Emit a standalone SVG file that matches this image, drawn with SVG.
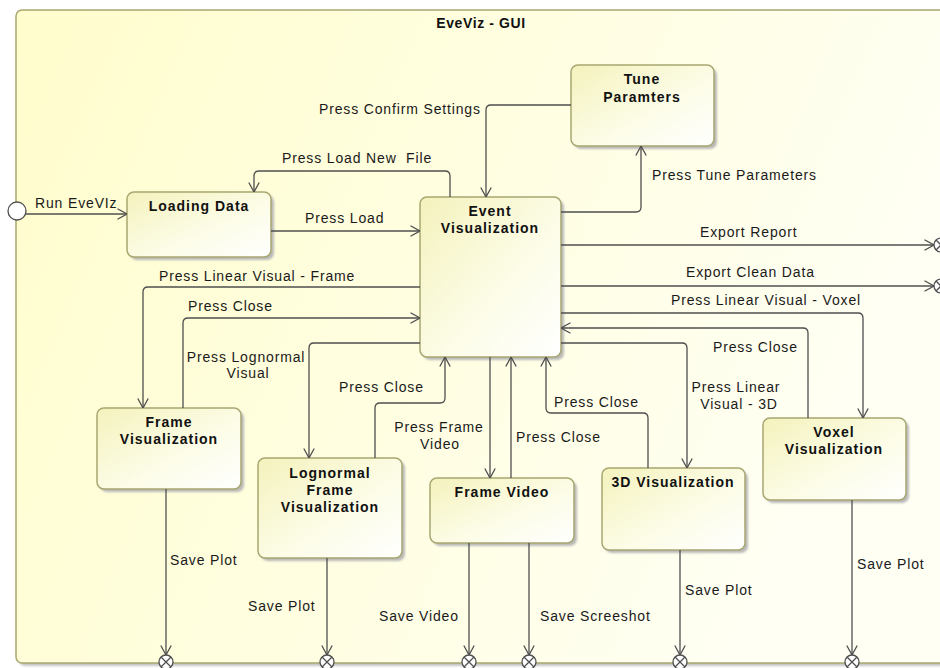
<svg xmlns="http://www.w3.org/2000/svg" width="940" height="668" viewBox="0 0 940 668">
<style>
.nr{fill:url(#ng);stroke:#a8a770;stroke-width:1.5}
.sh{fill:#b9b9b9;filter:url(#blur)}
.t{font-family:"Liberation Sans",Arial,sans-serif;font-weight:bold;font-size:14px;letter-spacing:1px;text-anchor:middle;fill:#111}
.l{font-family:"Liberation Sans",Arial,sans-serif;font-size:14px;letter-spacing:0.85px;fill:#1a1a1a}
.m{text-anchor:middle}
.c{fill:none;stroke:#4f4f4f;stroke-width:1.3}
.a{marker-end:url(#arr)}
.ex{fill:#fff;stroke:#4f4f4f;stroke-width:1.3}
</style>
<defs>
<linearGradient id="fg" x1="0" y1="0" x2="1" y2="0.3">
<stop offset="0" stop-color="#fffdcc"/>
<stop offset="1" stop-color="#fffff4"/>
</linearGradient>
<linearGradient id="ng" x1="0" y1="0" x2="1" y2="1">
<stop offset="0" stop-color="#f4f2bc"/>
<stop offset="0.55" stop-color="#fcfce6"/>
<stop offset="1" stop-color="#ffffff"/>
</linearGradient>
<filter id="blur" x="-10%" y="-10%" width="120%" height="120%"><feGaussianBlur stdDeviation="1"/></filter>
<marker id="arr" viewBox="0 0 10 12" refX="10" refY="6" markerWidth="10" markerHeight="12" orient="auto" markerUnits="userSpaceOnUse">
<path d="M0.5,0.8 L10,6 L0.5,11.2" fill="none" stroke="#4f4f4f" stroke-width="1.3"/>
</marker>
</defs>
<g id="frame">
<rect x="19" y="13" width="940" height="653" rx="6" fill="#c4c4c4" filter="url(#blur)"/>
<rect x="16" y="10" width="940" height="653" rx="6" fill="url(#fg)" stroke="#a8a770" stroke-width="1.5"/>
<text class="t" x="481" y="28" style="letter-spacing:0.6px">EveViz - GUI</text>
</g>
<g id="initial">
<circle cx="17" cy="211" r="9" class="ex"/>
</g>
<g id="loading-data">
<rect class="sh" x="130" y="195" width="144" height="65" rx="7"/>
<rect class="nr" x="127" y="192" width="144" height="65" rx="7"/>
<text class="t" x="199" y="211">Loading Data</text>
</g>
<g id="event-visualization">
<rect class="sh" x="423" y="200" width="141" height="160" rx="7"/>
<rect class="nr" x="420" y="197" width="141" height="160" rx="7"/>
<text class="t" x="490" y="216">Event</text>
<text class="t" x="490" y="233">Visualization</text>
</g>
<g id="tune-parameters">
<rect class="sh" x="574" y="68" width="143" height="81" rx="7"/>
<rect class="nr" x="571" y="65" width="143" height="81" rx="7"/>
<text class="t" x="642" y="84">Tune</text>
<text class="t" x="642" y="102">Paramters</text>
</g>
<g id="frame-visualization">
<rect class="sh" x="100" y="411" width="144" height="81" rx="7"/>
<rect class="nr" x="97" y="408" width="144" height="81" rx="7"/>
<text class="t" x="169" y="427">Frame</text>
<text class="t" x="169" y="444">Visualization</text>
</g>
<g id="lognormal-frame-visualization">
<rect class="sh" x="261" y="461" width="144" height="100" rx="7"/>
<rect class="nr" x="258" y="458" width="144" height="100" rx="7"/>
<text class="t" x="330" y="478">Lognormal</text>
<text class="t" x="330" y="495">Frame</text>
<text class="t" x="330" y="512">Visualization</text>
</g>
<g id="frame-video">
<rect class="sh" x="433" y="481" width="144" height="65" rx="7"/>
<rect class="nr" x="430" y="478" width="144" height="65" rx="7"/>
<text class="t" x="502" y="497">Frame Video</text>
</g>
<g id="visualization-3d">
<rect class="sh" x="605" y="471" width="143" height="82" rx="7"/>
<rect class="nr" x="602" y="468" width="143" height="82" rx="7"/>
<text class="t" x="673" y="487">3D Visualization</text>
</g>
<g id="voxel-visualization">
<rect class="sh" x="766" y="421" width="143" height="82" rx="7"/>
<rect class="nr" x="763" y="418" width="143" height="82" rx="7"/>
<text class="t" x="834" y="437">Voxel</text>
<text class="t" x="834" y="454">Visualization</text>
</g>
<g id="exit-points">
<g class="ex">
<circle cx="941" cy="245" r="7"/>
<circle cx="941" cy="286" r="7"/>
<circle cx="166" cy="662" r="7"/>
<circle cx="327" cy="662" r="7"/>
<circle cx="469" cy="662" r="7"/>
<circle cx="529" cy="662" r="7"/>
<circle cx="680" cy="662" r="7"/>
<circle cx="852" cy="662" r="7"/>
</g>
<path class="c" d="M936,240 l10,10 M936,250 l10,-10 M936,281 l10,10 M936,291 l10,-10 M161,657 l10,10 M161,667 l10,-10 M322,657 l10,10 M322,667 l10,-10 M464,657 l10,10 M464,667 l10,-10 M524,657 l10,10 M524,667 l10,-10 M675,657 l10,10 M675,667 l10,-10 M847,657 l10,10 M847,667 l10,-10"/>
</g>
<g id="connectors">
<path class="c a" d="M25.5,214 H127"/>
<path class="c a" d="M271,231 H420"/>
<path class="c a" d="M450,197 V176 Q450,171 445,171 H259 Q254,171 254,176 V192"/>
<path class="c a" d="M571,105 H491 Q486,105 486,110 V197"/>
<path class="c a" d="M561,212 H636 Q641,212 641,207 V146"/>
<path class="c a" d="M561,245 H934"/>
<path class="c a" d="M561,286 H934"/>
<path class="c a" d="M561,313 H858 Q863,313 863,318 V418"/>
<path class="c a" d="M808,418 V333 Q808,328 803,328 H561"/>
<path class="c a" d="M561,343 H682 Q687,343 687,348 V468"/>
<path class="c a" d="M648,468 V418 Q648,413 643,413 H551 Q546,413 546,408 V357"/>
<path class="c a" d="M490,357 V478"/>
<path class="c a" d="M511,478 V357"/>
<path class="c a" d="M375,458 V408 Q375,403 380,403 H440 Q445,403 445,398 V357"/>
<path class="c a" d="M420,343 H314 Q309,343 309,348 V458"/>
<path class="c a" d="M420,287 H148 Q143,287 143,292 V408"/>
<path class="c a" d="M183,408 V323 Q183,318 188,318 H420"/>
<path class="c a" d="M166,489 V655"/>
<path class="c a" d="M327,558 V655"/>
<path class="c a" d="M469,543 V655"/>
<path class="c a" d="M529,543 V655"/>
<path class="c a" d="M680,550 V655"/>
<path class="c a" d="M852,500 V655"/>
<text class="l" x="35" y="208">Run EveVIz</text>
<text class="l" x="282" y="163" xml:space="preserve" style="white-space:pre">Press Load New  File</text>
<text class="l" x="305" y="223">Press Load</text>
<text class="l" x="319" y="114">Press Confirm Settings</text>
<text class="l" x="652" y="180">Press Tune Parameters</text>
<text class="l" x="700" y="237">Export Report</text>
<text class="l" x="686" y="277">Export Clean Data</text>
<text class="l" x="671" y="305">Press Linear Visual - Voxel</text>
<text class="l" x="713" y="352">Press Close</text>
<text class="l m" x="736" y="392">Press Linear</text>
<text class="l m" x="739" y="409">Visual - 3D</text>
<text class="l" x="554" y="407">Press Close</text>
<text class="l" x="516" y="442">Press Close</text>
<text class="l m" x="439" y="432">Press Frame</text>
<text class="l m" x="440" y="449">Video</text>
<text class="l" x="339" y="392">Press Close</text>
<text class="l m" x="246" y="362">Press Lognormal</text>
<text class="l m" x="248" y="378">Visual</text>
<text class="l" x="159" y="281">Press Linear Visual - Frame</text>
<text class="l" x="188" y="311">Press Close</text>
<text class="l" x="170" y="565">Save Plot</text>
<text class="l" x="248" y="611">Save Plot</text>
<text class="l" x="379" y="621">Save Video</text>
<text class="l" x="540" y="621">Save Screeshot</text>
<text class="l" x="685" y="595">Save Plot</text>
<text class="l" x="857" y="569">Save Plot</text>
</g>
</svg>
